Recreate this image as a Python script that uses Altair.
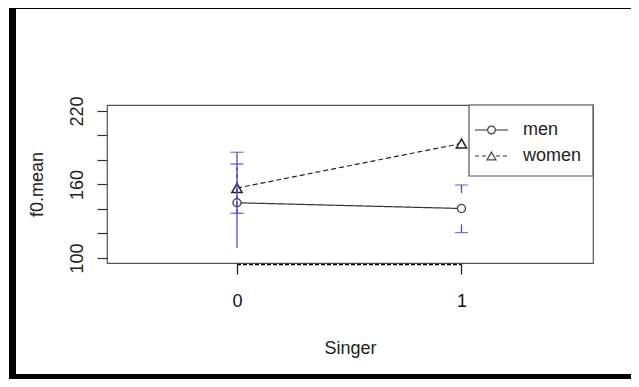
import altair as alt
import pandas as pd

# ---- data ----
singer = [0, 1]
groups = ["men", "women"]
men_mean = [145.1, 140.4]
women_mean = [157.1, 193.5]

# error bars (blue)
men_err_x = [0]
men_err_lo = [108.2]
men_err_hi = [186.3]
men_stub_x = [1, 1]
men_stub_from = [159.6, 120.7]
men_stub_to = [153.0, 127.3]
women_err_x = [0]
women_err_lo = [136.5]
women_err_hi = [176.7]
cap_x = [0, 1, 1]
cap_y = [186.3, 159.6, 120.7]
wcap_x = [0, 0]
wcap_y = [176.7, 136.5]

y_ticks = [100, 120, 140, 160, 180, 200, 220]
x_ticks = [0, 1]

FONT = "Liberation Sans"
FS = 18
BLUE = "#4040dd"
BOX = "#555555"

df = pd.DataFrame({
    "Singer": singer * 2,
    "group": ["men"] * len(singer) + ["women"] * len(singer),
    "f0": men_mean + women_mean,
})

xs = alt.Scale(domain=[-0.579, 1.586], nice=False, zero=False)
ys = alt.Scale(domain=[95.9, 224.9], nice=False, zero=False)

x_axis = alt.Axis(values=x_ticks, format="d", tickSize=10, tickColor="#222", tickWidth=1.3,
                  domain=False, grid=False, offset=1,
                  labelFont=FONT, labelFontSize=FS, labelColor="#111", labelPadding=18,
                  labelBaseline="top", labelAlign="center",
                  title="Singer", titleFont=FONT, titleFontSize=FS, titleFontWeight="normal",
                  titleColor="#222", titleX=243, titleY=89, titleAlign="center",
                  titleBaseline="alphabetic")
y_axis = alt.Axis(values=y_ticks, labelExpr="datum.value % 60 == 40 ? datum.label : ''",
                  tickSize=10, tickColor="#333", tickWidth=1.2, domain=False, grid=False,
                  labelFont=FONT, labelFontSize=FS, labelColor="#222", labelAngle=270,
                  labelAlign="center", labelBaseline="alphabetic", labelPadding=15,
                  title="f0.mean", titleFont=FONT, titleFontSize=FS, titleFontWeight="normal",
                  titleColor="#222", titleAngle=270, titleX=-65, titleY=79,
                  titleAlign="center", titleBaseline="alphabetic")


def X(field):
    return alt.X(field, type="quantitative", scale=xs, axis=x_axis, title="Singer")


def Y(field):
    return alt.Y(field, type="quantitative", scale=ys, axis=y_axis, title="f0.mean")


base = alt.Chart(df)

lines = base.mark_line(strokeWidth=1.2).encode(
    x=X("Singer"),
    y=Y("f0"),
    detail="group:N",
    color=alt.Color("group:N", scale=alt.Scale(domain=groups, range=["#333333", "#222222"]), legend=None),
    strokeDash=alt.StrokeDash("group:N", scale=alt.Scale(domain=groups, range=[[1, 0], [5, 3]]), legend=None),
)

pts_men = base.transform_filter(alt.datum.group == "men").mark_point(
    shape="circle", size=65, filled=False, fill="white", stroke="#444", strokeWidth=1.3, opacity=1
).encode(x=X("Singer"), y=Y("f0"))

pts_women = base.transform_filter(alt.datum.group == "women").mark_point(
    shape="triangle-up", size=105, filled=False, fill="white", stroke="#222", strokeWidth=1.5, opacity=1
).encode(x=X("Singer"), y=Y("f0"))

men_err = alt.Chart(pd.DataFrame({"x": men_err_x, "lo": men_err_lo, "hi": men_err_hi})).mark_rule(
    color=BLUE, strokeWidth=1.2).encode(x=X("x"), y=Y("lo"), y2="hi:Q")

men_stubs = alt.Chart(pd.DataFrame({"x": men_stub_x, "a": men_stub_from, "b": men_stub_to})).mark_rule(
    color=BLUE, strokeWidth=1.2).encode(x=X("x"), y=Y("a"), y2="b:Q")

women_err = alt.Chart(pd.DataFrame({"x": women_err_x, "lo": women_err_lo, "hi": women_err_hi})).mark_rule(
    color=BLUE, strokeWidth=1.4, strokeDash=[4, 3]).encode(x=X("x"), y=Y("lo"), y2="hi:Q")

caps = alt.Chart(pd.DataFrame({"x": cap_x, "y": cap_y})).mark_tick(
    orient="horizontal", size=13, thickness=1.2, color=BLUE).encode(x=X("x"), y=Y("y"))

wcaps = alt.Chart(pd.DataFrame({"x": wcap_x, "y": wcap_y})).mark_tick(
    orient="horizontal", size=13, thickness=1.3, color=BLUE, opacity=0.8).encode(x=X("x"), y=Y("y"))

# R style x axis line between the first and last tick (dashed look)
xline = alt.Chart(pd.DataFrame({"a": [x_ticks[0]], "b": [x_ticks[-1]]})).mark_rule(
    color="#000", strokeWidth=1.7, strokeDash=[4, 2]).encode(
    x=X("a"), x2="b:Q", y=alt.value(159.5))

one = pd.DataFrame({"k": [0]})

# legend box
leg_box = alt.Chart(one).mark_rect(fill="white", stroke=BOX, strokeWidth=1.2).encode(
    x=alt.value(362), x2=alt.value(486), y=alt.value(0), y2=alt.value(71))

leg_layers = []
leg_y = [25, 51]
leg_dash = [[1, 0], [4, 3]]
leg_shape = ["circle", "triangle-up"]
for g, ly, dsh, shp in zip(groups, leg_y, leg_dash, leg_shape):
    leg_layers.append(alt.Chart(one).mark_rule(color="#333", strokeWidth=1.2, strokeDash=dsh).encode(
        x=alt.value(368), x2=alt.value(401), y=alt.value(ly)))
    leg_layers.append(alt.Chart(one).mark_point(shape=shp, size=60 if shp == "circle" else 80,
                                                filled=False, fill="white", stroke="#444",
                                                strokeWidth=1.2, opacity=1).encode(
        x=alt.value(384.5), y=alt.value(ly)))
    leg_layers.append(alt.Chart(pd.DataFrame({"t": [g]})).mark_text(
        font=FONT, fontSize=FS, color="#222", align="left", baseline="middle").encode(
        x=alt.value(416), y=alt.value(ly), text="t:N"))

# screenshot frame
frame_left = alt.Chart(one).mark_rule(color="#000", strokeWidth=7).encode(
    x=alt.value(-94.5), y=alt.value(-103), y2=alt.value(274))
frame_top = alt.Chart(one).mark_rule(color="#000", strokeWidth=7).encode(
    x=alt.value(-98), x2=alt.value(530), y=alt.value(-99.5))
frame_bottom = alt.Chart(one).mark_rule(color="#000", strokeWidth=5).encode(
    x=alt.value(-98), x2=alt.value(530), y=alt.value(271.5))

chart = alt.layer(
    lines, pts_men, pts_women, men_err, men_stubs, women_err, caps, wcaps, xline,
    leg_box, *leg_layers,
    frame_left, frame_top, frame_bottom,
).properties(
    width=486, height=158,
    autosize=alt.AutoSizeParams(type="none"),
    padding={"left": 99, "top": 97, "right": 38, "bottom": 116},
    background="white",
).configure_view(stroke=BOX, strokeWidth=1.2)

chart.save("out.html", embed_options={"renderer": "svg", "actions": False})
